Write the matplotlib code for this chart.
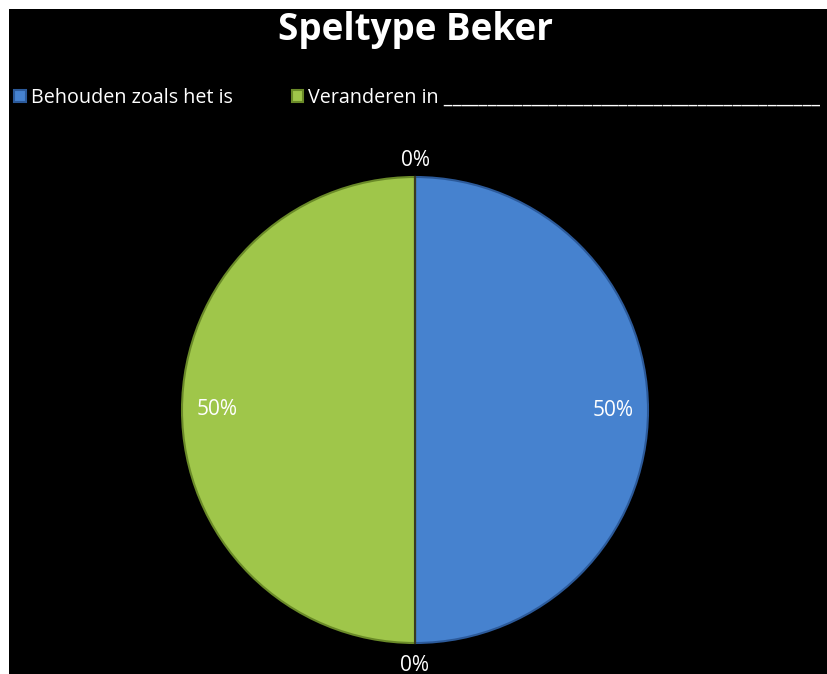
import matplotlib
matplotlib.use("Agg")
import matplotlib.pyplot as plt
from matplotlib.patches import Rectangle

title = "Speltype Beker"
categories = ["Behouden zoals het is", "", "Veranderen in " + "_" * 43, ""]
values = [50, 0, 50, 0]
colors = ["#4682cf", "#000000", "#9fc64a", "#000000"]
edge_colors = ["#2c5a9a", "#000000", "#6a8a28", "#000000"]

W, H = 827, 674
fig = plt.figure(figsize=(W / 100, H / 100), dpi=100, facecolor="white")
fig.patches.append(Rectangle((9 / W, 0), 1 - 9 / W, 1 - 9 / H, transform=fig.transFigure,
                             facecolor="black", edgecolor="none", zorder=-5))
ax = fig.add_axes([0, 0, 1, 1])
ax.patch.set_visible(False)

font = "Open Sans"
cx, cy, r = 415, H - 410, 233
wedges, texts, autotexts = ax.pie(values, colors=colors, startangle=90, counterclock=False,
                                  center=(cx, cy), radius=r, autopct="%1.0f%%", pctdistance=0.85,
                                  wedgeprops=dict(linewidth=1.5),
                                  textprops=dict(color="white", fontsize=15, family=font))
ax.set_xlim(0, W)
ax.set_ylim(0, H)
ax.set_aspect("equal")
ax.axis("off")
for w, ec in zip(wedges, edge_colors):
    w.set_edgecolor(ec)
# divider line
ax.plot([cx, cx], [cy - r, cy + r], color="#3a3a20", lw=1.5, zorder=5)

for t, v in zip(autotexts, values):
    if v == 0:
        x, y = t.get_position()
        dx, dy = x - cx, y - cy
        d = (dx ** 2 + dy ** 2) ** 0.5 or 1
        f = 1.07 if dy > 0 else 1.095
        t.set_position((cx + dx / d * r * f, cy + dy / d * r * f))

fig.text(415 / W, 1 - 30 / H, title, ha="center", va="center", color="white",
         fontsize=26.5, fontweight="bold", family=font)

leg = ax.legend([wedges[0], wedges[2]], [categories[0], categories[2]], loc="upper left",
                bbox_to_anchor=(-4 / W, 1 - 70 / H), bbox_transform=fig.transFigure,
                ncol=2, frameon=False, handlelength=0.6, handleheight=0.6, handletextpad=0.25,
                columnspacing=3.0, prop=dict(family=font, size=14.2))
for t in leg.get_texts():
    t.set_color("white")

fig.savefig("out.png", dpi=100, facecolor="white")
